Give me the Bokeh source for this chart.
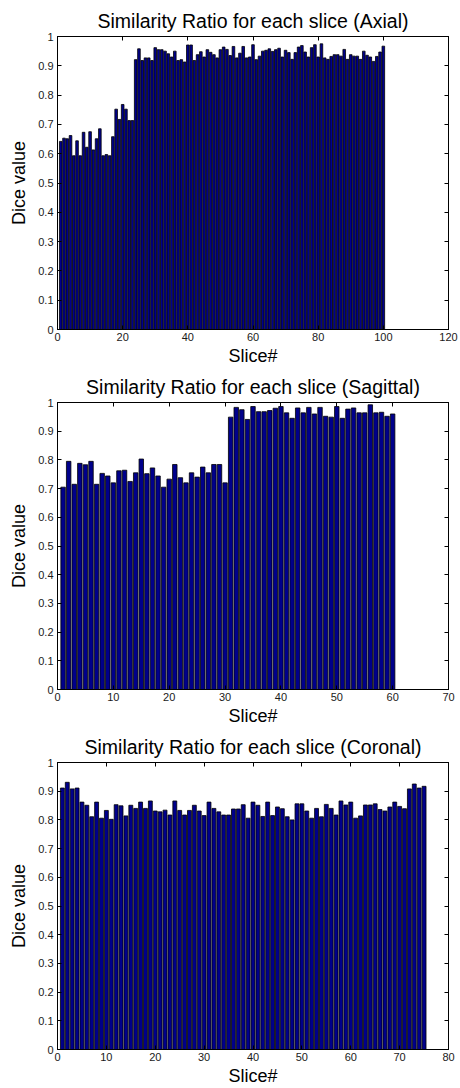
from bokeh.plotting import figure
from bokeh.models import LinearAxis, FixedTicker, NumeralTickFormatter, Range1d
from bokeh.layouts import column
from bokeh.embed import file_html
from bokeh.resources import INLINE

# ---------------- data ----------------
axial_dice = [0.642, 0.653, 0.651, 0.662, 0.593, 0.644, 0.593, 0.673, 0.622, 0.675,
              0.613, 0.651, 0.685, 0.593, 0.597, 0.593, 0.658, 0.752, 0.717, 0.768,
              0.752, 0.713, 0.713, 0.921, 0.958, 0.918, 0.927, 0.927, 0.918, 0.962,
              0.955, 0.955, 0.950, 0.941, 0.930, 0.950, 0.918, 0.921, 0.913, 0.971,
              0.971, 0.918, 0.938, 0.948, 0.930, 0.955, 0.946, 0.938, 0.927, 0.955,
              0.964, 0.956, 0.935, 0.966, 0.927, 0.943, 0.966, 0.927, 0.930, 0.972,
              0.921, 0.933, 0.950, 0.953, 0.958, 0.949, 0.955, 0.960, 0.930, 0.953,
              0.945, 0.922, 0.945, 0.964, 0.969, 0.947, 0.930, 0.962, 0.972, 0.930,
              0.975, 0.927, 0.922, 0.932, 0.938, 0.938, 0.933, 0.956, 0.922, 0.938,
              0.933, 0.933, 0.922, 0.950, 0.936, 0.930, 0.915, 0.932, 0.947, 0.967]

sagittal_dice = [0.705, 0.795, 0.715, 0.788, 0.783, 0.795, 0.715, 0.753, 0.744, 0.720,
                 0.762, 0.764, 0.725, 0.755, 0.803, 0.752, 0.772, 0.744, 0.705, 0.733,
                 0.784, 0.738, 0.720, 0.755, 0.740, 0.775, 0.755, 0.784, 0.784, 0.720,
                 0.949, 0.983, 0.975, 0.941, 0.986, 0.968, 0.968, 0.972, 0.980, 0.986,
                 0.964, 0.945, 0.981, 0.964, 0.983, 0.960, 0.983, 0.952, 0.949, 0.986,
                 0.945, 0.977, 0.981, 0.964, 0.964, 0.992, 0.964, 0.966, 0.952, 0.960]

coronal_dice = [0.911, 0.931, 0.908, 0.911, 0.862, 0.851, 0.811, 0.862, 0.806, 0.833,
                0.802, 0.853, 0.849, 0.814, 0.851, 0.840, 0.862, 0.840, 0.866, 0.831,
                0.828, 0.834, 0.817, 0.866, 0.833, 0.817, 0.833, 0.851, 0.831, 0.815,
                0.862, 0.840, 0.828, 0.817, 0.817, 0.838, 0.838, 0.853, 0.806, 0.862,
                0.851, 0.812, 0.862, 0.815, 0.845, 0.839, 0.811, 0.800, 0.856, 0.856,
                0.831, 0.806, 0.840, 0.811, 0.854, 0.840, 0.817, 0.866, 0.852, 0.862,
                0.806, 0.814, 0.852, 0.852, 0.856, 0.836, 0.831, 0.845, 0.862, 0.847,
                0.839, 0.908, 0.925, 0.911, 0.917]

titles = ["Similarity Ratio for each slice (Axial)",
          "Similarity Ratio for each slice (Sagittal)",
          "Similarity Ratio for each slice (Coronal)"]
x_max = [120, 70, 80]
x_ticks = [[0, 20, 40, 60, 80, 100, 120],
           [0, 10, 20, 30, 40, 50, 60, 70],
           [0, 10, 20, 30, 40, 50, 60, 70, 80]]
y_ticks = [0, 0.1, 0.2, 0.3, 0.4, 0.5, 0.6, 0.7, 0.8, 0.9, 1]
x_label = "Slice#"
y_label = "Dice value"

BAR = "#00008B"
FONT = "Liberation Sans"


def panel(title, vals, xmax, xt, h, left, right, top, bottom):
    slices = list(range(1, len(vals) + 1))
    p = figure(width=460, height=h, x_range=Range1d(0, xmax), y_range=Range1d(0, 1),
               output_backend="svg", toolbar_location=None,
               min_border_left=left, min_border_right=right,
               min_border_top=top, min_border_bottom=bottom, title=title)
    p.vbar(x=slices, top=vals, bottom=0, width=0.8,
           fill_color=BAR, line_color="black", line_width=0.8)
    p.xgrid.visible = False
    p.ygrid.visible = False
    p.outline_line_color = "black"
    p.outline_line_width = 1
    p.background_fill_color = "white"
    p.border_fill_color = "white"

    p.title.text_font = FONT
    p.title.text_font_size = "19.5px"
    p.title.text_font_style = "normal"
    p.title.text_color = "black"
    p.title.align = "center"
    p.title.standoff = 10

    xtick = FixedTicker(ticks=xt, minor_ticks=[])
    ytick = FixedTicker(ticks=y_ticks, minor_ticks=[])

    for ax in p.xaxis:
        ax.ticker = xtick
        ax.axis_label = x_label
        ax.axis_label_standoff = 2
        ax.major_label_standoff = 3
    for ax in p.yaxis:
        ax.ticker = ytick
        ax.axis_label = y_label
        ax.formatter = NumeralTickFormatter(format="0.[0]")
        ax.axis_label_standoff = 6
        ax.major_label_standoff = 4
    for ax in list(p.xaxis) + list(p.yaxis):
        ax.major_tick_in = 4
        ax.major_tick_out = 0
        ax.minor_tick_in = 0
        ax.minor_tick_out = 0
        ax.major_label_text_font = FONT
        ax.major_label_text_font_size = "11px"
        ax.major_label_text_color = "#1a1a1a"
        ax.axis_label_text_font = FONT
        ax.axis_label_text_font_size = "18px"
        ax.axis_label_text_font_style = "normal"
        ax.axis_label_text_color = "black"
        ax.axis_line_color = "black"
        ax.major_tick_line_color = "black"

    top_ax = LinearAxis(ticker=xtick, major_label_overrides={t: "" for t in xt},
                        major_tick_in=4, major_tick_out=0, minor_tick_in=0, minor_tick_out=0,
                        major_label_standoff=0, axis_line_color="black")
    right_ax = LinearAxis(ticker=ytick, major_label_overrides={t: "" for t in y_ticks},
                          major_tick_in=4, major_tick_out=0, minor_tick_in=0, minor_tick_out=0,
                          major_label_standoff=0, axis_line_color="black")
    p.add_layout(top_ax, "above")
    p.add_layout(right_ax, "right")
    return p


p1 = panel(titles[0], axial_dice, x_max[0], x_ticks[0], 368, 57, 7, 36, 36)
p2 = panel(titles[1], sagittal_dice, x_max[1], x_ticks[1], 360, 52, 12, 32, 36)
p3 = panel(titles[2], coronal_dice, x_max[2], x_ticks[2], 360, 52, 12, 33, 36)

layout = column(p1, p2, p3, spacing=0)
open("out.html", "w").write(file_html(layout, INLINE))
